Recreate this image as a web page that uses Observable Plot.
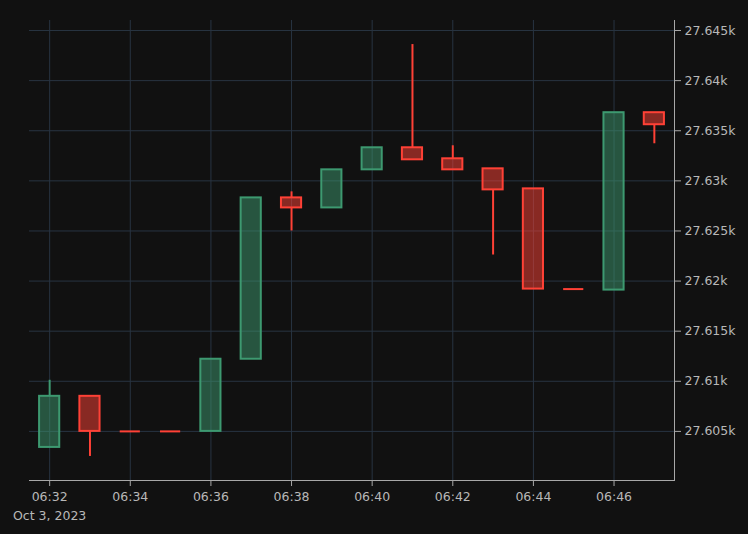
<!DOCTYPE html>
<html>
<head>
<meta charset="utf-8">
<script src="https://cdn.jsdelivr.net/npm/d3@7"></script>
<script src="https://cdn.jsdelivr.net/npm/@observablehq/plot@0.6"></script>
<style>
  html, body { margin: 0; padding: 0; background: #111111; }
  #chart svg { display: block; }
</style>
</head>
<body>
<div id="chart"></div>
<script>
const times = ["06:32","06:33","06:34","06:35","06:36","06:37","06:38","06:39","06:40","06:41","06:42","06:43","06:44","06:45","06:46","06:47"];
const open  = [27603.4,27608.5,27605.0,27605.0,27605.0,27612.2,27628.3,27627.3,27631.1,27633.3,27632.2,27631.2,27629.2,27619.2,27619.1,27636.8];
const high  = [27610.1,27608.5,27605.0,27605.0,27612.2,27628.3,27628.9,27631.1,27633.3,27643.6,27633.5,27631.2,27629.2,27619.2,27636.8,27636.8];
const low   = [27603.4,27602.5,27605.0,27605.0,27605.0,27612.2,27625.0,27627.3,27631.1,27632.1,27631.1,27622.6,27619.2,27619.2,27619.1,27633.7];
const close = [27608.5,27605.0,27605.0,27605.0,27612.2,27628.3,27627.3,27631.1,27633.3,27632.1,27631.1,27629.1,27619.2,27619.2,27636.8,27635.6];
const dateLabel = "Oct 3, 2023";
const yTicks = [27605, 27610, 27615, 27620, 27625, 27630, 27635, 27640, 27645];

const UP = "#3D9970", DOWN = "#FF4136";
const toDate = (t) => new Date(`2023-10-03T${t}:00Z`);
const data = times.map((t, i) => {
  const d = toDate(t);
  return {
    t: d,
    x1: new Date(+d - 15000),
    x2: new Date(+d + 15000),
    open: open[i], high: high[i], low: low[i], close: close[i],
    top: Math.max(open[i], close[i]),
    bot: Math.min(open[i], close[i]),
    color: close[i] > open[i] ? UP : DOWN
  };
});
const bodies = data.filter(d => d.open !== d.close);
const flats = data.filter(d => d.open === d.close);

const xTicks = d3.utcMinute.every(2).range(toDate("06:32"), new Date(+toDate("06:47") + 1));
const fmt = d3.utcFormat("%H:%M");
const yFmt = d3.format(".5~s");

const chart = Plot.plot({
  width: 748,
  height: 534,
  marginLeft: 29,
  marginRight: 74,
  marginTop: 20,
  marginBottom: 54,
  style: { background: "#111111", fontFamily: "DejaVu Sans, sans-serif", fontSize: "12.5px", color: "#b8b8b8" },
  x: { type: "utc", domain: [new Date(+toDate("06:32") - 30000), new Date(+toDate("06:47") + 30000)] },
  y: { domain: [27600.1, 27646.0] },
  marks: [
    Plot.gridX(xTicks, { stroke: "#283442", strokeOpacity: 1, strokeWidth: 1 }),
    Plot.gridY(yTicks, { stroke: "#283442", strokeOpacity: 1, strokeWidth: 1 }),
    Plot.ruleX(data, { x: "t", y1: "high", y2: "top", stroke: "color", strokeWidth: 2 }),
    Plot.ruleX(data, { x: "t", y1: "bot", y2: "low", stroke: "color", strokeWidth: 2 }),
    Plot.rect(bodies, { x1: "x1", x2: "x2", y1: "open", y2: "close", fill: "color", fillOpacity: 0.5, stroke: "color", strokeWidth: 2 }),
    Plot.ruleY(flats, { y: "open", x1: "x1", x2: "x2", stroke: "color", strokeWidth: 2 }),
    Plot.frame({ anchor: "bottom", stroke: "#a8a8a8" }),
    Plot.frame({ anchor: "right", stroke: "#a8a8a8" }),
    Plot.axisX(xTicks, {
      tickSize: 6, tickPadding: 1, stroke: "#a8a8a8", fill: "#b8b8b8",
      lineHeight: 1.5,
      tickFormat: (d, i) => i === 0 ? fmt(d) + "\n" + dateLabel : fmt(d)
    }),
    Plot.axisY(yTicks, {
      anchor: "right", tickSize: 6, tickPadding: 4, stroke: "#a8a8a8", fill: "#b8b8b8",
      tickFormat: yFmt
    })
  ]
});
document.getElementById("chart").appendChild(chart);
</script>
</body>
</html>
